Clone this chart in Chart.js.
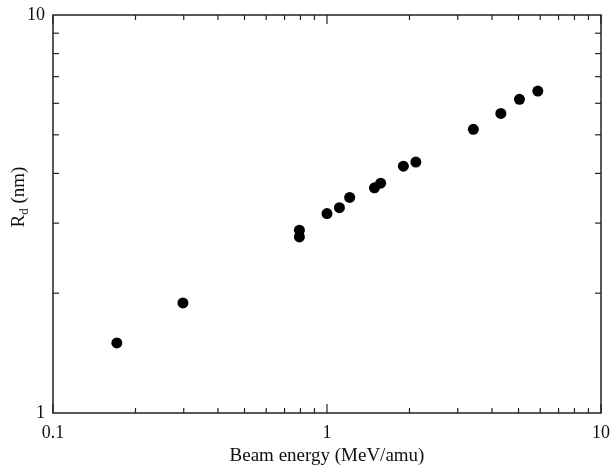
<!DOCTYPE html>
<html>
<head>
<meta charset="utf-8">
<script src="https://cdn.jsdelivr.net/npm/chart.js@4/dist/chart.umd.min.js"></script>
<style>
  html, body { margin: 0; padding: 0; background: #fff; }
  #wrap { width: 615px; height: 466px; }
</style>
</head>
<body>
<div id="wrap"><canvas id="myChart" width="615" height="466"></canvas></div>
<script>
// beam energy (MeV/amu) and Rd (nm)
const beamEnergy = [0.171, 0.298, 0.793, 0.793, 1.0, 1.11, 1.21, 1.49, 1.57, 1.90, 2.11, 3.42, 4.31, 5.04, 5.88];
const rd = [1.50, 1.89, 2.88, 2.77, 3.17, 3.28, 3.48, 3.68, 3.78, 4.17, 4.27, 5.16, 5.66, 6.14, 6.44];

const xTickLabels = [0.1, 1, 10];
const yTickLabels = [1, 10];
const minorSteps = [2, 3, 4, 5, 6, 7, 8, 9];

const serif = '"Liberation Serif", "DejaVu Serif", serif';

const frame = {
    id: 'frame',
    afterDraw(chart) {
        const { ctx, chartArea: a, scales: { x, y } } = chart;
        ctx.save();
        ctx.strokeStyle = '#222';
        ctx.lineWidth = 1.5;
        ctx.strokeRect(a.left, a.top, a.right - a.left, a.bottom - a.top);

        // inward ticks on all four sides
        const tick = (x1, y1, x2, y2) => {
            ctx.beginPath();
            ctx.moveTo(x1, y1);
            ctx.lineTo(x2, y2);
            ctx.stroke();
        };
        ctx.lineWidth = 1.2;
        [0.1, 1].forEach(d => minorSteps.forEach(m => {
            const px = x.getPixelForValue(d * m);
            tick(px, a.bottom, px, a.bottom - 5);
            tick(px, a.top, px, a.top + 5);
        }));
        minorSteps.forEach(m => {
            const py = y.getPixelForValue(m);
            tick(a.left, py, a.left + 6, py);
            tick(a.right, py, a.right - 6, py);
        });
        xTickLabels.forEach(v => {
            const px = x.getPixelForValue(v);
            tick(px, a.bottom, px, a.bottom - 9);
            tick(px, a.top, px, a.top + 9);
        });

        // tick labels
        ctx.fillStyle = '#111';
        ctx.font = '18px ' + serif;
        ctx.textAlign = 'center';
        ctx.textBaseline = 'middle';
        xTickLabels.forEach(v => {
            ctx.fillText(String(v), x.getPixelForValue(v), a.bottom + 20);
        });
        ctx.textAlign = 'right';
        yTickLabels.forEach(v => {
            ctx.fillText(String(v), a.left - 8, y.getPixelForValue(v));
        });

        // axis titles
        ctx.font = '19px ' + serif;
        ctx.textAlign = 'center';
        ctx.textBaseline = 'alphabetic';
        ctx.fillText('Beam energy (MeV/amu)', (a.left + a.right) / 2, 461);

        ctx.translate(24, 197);
        ctx.rotate(-Math.PI / 2);
        ctx.textAlign = 'left';
        const rW = ctx.measureText('R').width;
        const rest = ' (nm)';
        const restW = ctx.measureText(rest).width;
        ctx.font = '13px ' + serif;
        const dW = ctx.measureText('d').width;
        let cx = -(rW + dW + restW) / 2;
        ctx.font = '19px ' + serif;
        ctx.fillText('R', cx, 0);
        cx += rW;
        ctx.font = '13px ' + serif;
        ctx.fillText('d', cx, 4);
        cx += dW;
        ctx.font = '19px ' + serif;
        ctx.fillText(rest, cx, 0);
        ctx.restore();
    }
};

new Chart(document.getElementById('myChart').getContext('2d'), {
    type: 'scatter',
    data: {
        datasets: [{
            data: beamEnergy.map((e, i) => ({ x: e, y: rd[i] })),
            backgroundColor: '#000',
            borderWidth: 0,
            pointRadius: 5.5,
        }]
    },
    options: {
        responsive: false,
        animation: false,
        layout: { padding: { left: 53, top: 15, right: 14, bottom: 53 } },
        plugins: { legend: { display: false }, tooltip: { enabled: false } },
        scales: {
            x: { type: 'logarithmic', min: 0.1, max: 10, display: false },
            y: { type: 'logarithmic', min: 1, max: 10, display: false },
        }
    },
    plugins: [frame]
});
</script>
</body>
</html>
